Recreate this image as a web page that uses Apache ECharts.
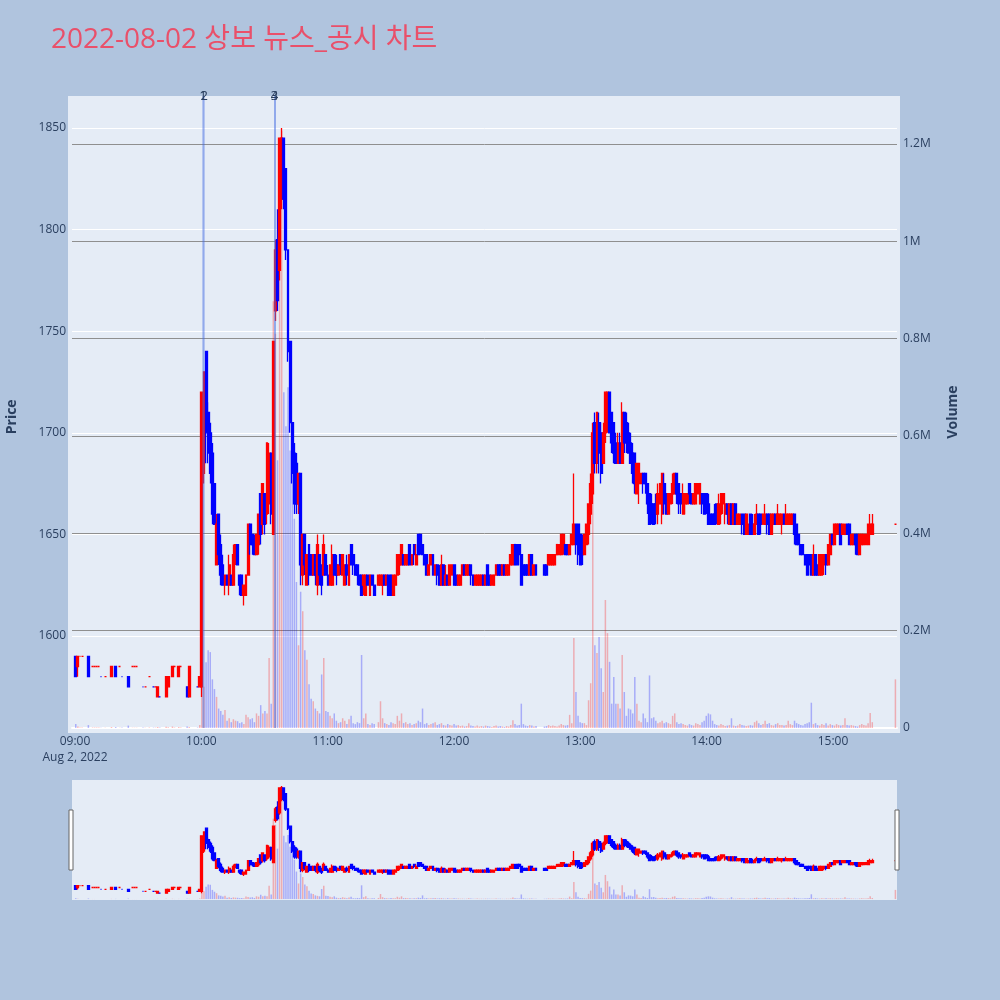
<!DOCTYPE html>
<html><head><meta charset="utf-8">
<script src="https://cdn.jsdelivr.net/npm/echarts@6/dist/echarts.min.js"></script>
<style>html,body{margin:0;padding:0;background:#b0c4de}#c{width:1000px;height:1000px}</style>
</head><body><div id="c"></div>
<script>
const times = [
'09:00','09:01','09:02','09:03','09:06','09:08','09:09','09:10','09:11','09:12','09:14','09:17','09:19','09:21','09:22','09:25','09:27','09:28','09:29','09:32','09:33','09:35','09:37','09:38','09:39','09:40','09:43','09:44','09:46','09:47','09:49','09:50','09:53','09:54','09:58','09:59',
'10:00','10:01','10:02','10:03','10:04','10:05','10:06','10:07','10:08','10:09','10:10','10:11','10:12','10:13','10:14','10:15','10:16','10:17','10:18','10:19','10:20','10:21','10:22','10:23','10:24','10:25','10:26','10:27','10:28','10:29','10:30','10:31','10:32','10:33','10:34','10:35','10:36','10:37','10:38','10:39','10:40','10:41','10:42','10:43','10:44','10:45','10:46','10:47','10:48','10:49','10:50','10:51','10:52','10:53','10:54','10:55','10:56','10:57','10:58','10:59',
'11:00','11:01','11:02','11:03','11:04','11:05','11:06','11:07','11:08','11:09','11:10','11:11','11:12','11:13','11:14','11:15','11:16','11:17','11:18','11:19','11:20','11:21','11:22','11:24','11:25','11:26','11:27','11:28','11:29','11:30','11:31','11:32','11:33','11:34','11:35','11:36','11:37','11:38','11:39','11:40','11:41','11:42','11:43','11:44','11:45','11:46','11:47','11:48','11:49','11:50','11:51','11:52','11:53','11:54','11:55','11:56','11:57','11:58','11:59',
'12:00','12:01','12:02','12:03','12:04','12:05','12:06','12:07','12:08','12:09','12:10','12:11','12:12','12:13','12:14','12:15','12:16','12:17','12:18','12:19','12:20','12:21','12:22','12:23','12:24','12:25','12:26','12:27','12:28','12:29','12:30','12:31','12:32','12:33','12:34','12:35','12:36','12:37','12:38','12:39','12:43','12:44','12:45','12:46','12:47','12:48','12:49','12:50','12:51','12:52','12:53','12:54','12:55','12:56','12:57','12:58','12:59',
'13:00','13:01','13:02','13:03','13:04','13:05','13:06','13:07','13:08','13:09','13:10','13:11','13:12','13:13','13:14','13:15','13:16','13:17','13:18','13:19','13:20','13:21','13:22','13:23','13:24','13:25','13:26','13:27','13:28','13:29','13:30','13:31','13:32','13:33','13:34','13:35','13:36','13:37','13:38','13:39','13:40','13:41','13:42','13:43','13:44','13:45','13:46','13:47','13:48','13:49','13:50','13:51','13:52','13:53','13:54','13:55','13:56','13:57','13:58','13:59',
'14:00','14:01','14:02','14:03','14:04','14:05','14:06','14:07','14:08','14:09','14:10','14:11','14:12','14:13','14:14','14:15','14:16','14:17','14:18','14:19','14:20','14:21','14:22','14:23','14:24','14:25','14:26','14:27','14:28','14:29','14:30','14:31','14:32','14:33','14:34','14:35','14:36','14:37','14:38','14:39','14:40','14:41','14:42','14:43','14:44','14:45','14:46','14:47','14:48','14:49','14:50','14:51','14:52','14:53','14:54','14:55','14:56','14:57','14:58','14:59',
'15:00','15:01','15:02','15:03','15:04','15:05','15:06','15:07','15:08','15:09','15:10','15:11','15:12','15:13','15:14','15:15','15:16','15:17','15:18','15:19','15:30'
];
const opens = [
1590,1585,1590,1590,1590,1585,1585,1585,1585,1580,1580,1580,1585,1585,1580,1580,1585,1585,1585,1575,1575,1580,1575,1575,1570,1570,1570,1575,1580,1585,1580,1585,1575,1570,1575,1575,
1575,1680,1740,1710,1700,1690,1675,1635,1660,1645, 1635,1625,1630,1625,1630,1625,1640,1645,1630,1630,
1620,1620,1630,1655,1650,1645,1640,1645,1670,1655, 1670,1660,1665,1690,1650,1760,1795,1780,1815,1845,
1830,1790,1745,1705,1690,1685,1665,1680,1630,1650, 1625,1645,1640,1630,1640,1625,1640,1635,1630,1640,
1630,1625,1625,1640,1635,1630,1640,1630,1625,1635, 1625,1645,1640,1635,1635,1630,1630,1625,1620,1630,
1620,1630,1625, 1625,1625,1625,1630,1625,1630,1630, 1620,1625,1630,1635,1635,1640,1635,1635,1645,
1635,1645,1635,1650,1650,1645,1640,1640,1630,1635, 1640,1630,1635,1630,1625,1635,1625,1630,1625,1630,
1635,1630,1625,1625,1630,1635,1630,1630,1635,1630, 1625,1625,1625,1625,1630,1625,1635,1630,1625,1625,
1630,1635,1635,1630,1635,1630,1630,1635,1635,1645, 1645,1645,1640,1635,1635,1635,1630,1640,1630,1635,
1635,1635,1635,1635,1635,1635,1640, 1640,1640,1645,1645,1645,1640,1645,1645,1655,1655,
1650,1645,1640,1645,1650,1660,1670,1705,1685,1705, 1700,1685,1700,1705,1720,1710,1705,1695,1685,1695,
1685,1710,1705,1700,1695,1690,1690,1670,1675,1675, 1680,1680,1675,1670,1665,1665,1665,1660,1665,1660,
1675,1670,1660,1665,1670,1670,1680,1675,1670,1660, 1665,1665,1675,1670,1665,1665,1670,1665,1670,1670,
1670,1665,1660,1660,1660,1665,1655,1660,1665,1660, 1665,1655,1665,1655,1665,1655,1655,1660,1660,1650,
1650,1660,1655,1650,1655,1660,1660,1655,1655,1660, 1660,1650,1655,1660,1655,1655,1655,1660,1655,1655,
1655,1655,1660,1655,1650,1645,1645,1640,1640,1640, 1640,1630,1640,1635,1630,1630,1635,1640,1635,1640,
1650,1645,1650,1650,1655,1650,1650,1655,1655,1645, 1645,1650,1650,1640,1645,1645,1645,1645,1650,1650, 1655
];
const closes = [
1580,1590,1590,1590,1580,1585,1585,1585,1585,1580,1580,1585,1580,1585,1580,1575,1585,1585,1585,1575,1575,1580,1575,1575,1575,1570,1580,1580,1585,1585,1585,1585,1570,1585,1575,1580,
1720,1730,1700,1690,1680,1660,1655,1655,1640,1630, 1625,1630,1625,1635,1625,1640,1645,1635,1625,1620,
1625,1630,1655,1645,1645,1640,1650,1660,1650,1675, 1655,1695,1690,1660,1745,1790,1765,1845,1845,1815,
1790,1740,1705,1680,1665,1665,1680,1635,1650,1635, 1640,1630,1630,1640,1630,1645,1630,1625,1645,1630,
1625,1635,1640,1630,1630,1635,1635,1640,1635,1630, 1640,1635,1635,1630,1630,1625,1620,1630,1630,1625,
1630,1625,1620, 1630,1630,1630,1625,1630,1620,1620, 1630,1630,1640,1640,1645,1635,1640,1640,1635,
1640,1640,1640,1640,1645,1640,1635,1630,1635,1640, 1630,1635,1630,1625,1635,1625,1630,1625,1635,1635,
1625,1625,1630,1630,1635,1630,1635,1635,1630,1625, 1630,1630,1630,1630,1625,1630,1625,1625,1630,1630,
1635,1630,1630,1635,1630,1635,1635,1640,1645,1635, 1635,1640,1625,1630,1630,1630,1640,1630,1635,1630,
1630,1630,1640,1640,1640,1640,1645, 1645,1650,1650,1640,1640,1645,1650,1655,1645,1640,
1635,1640,1650,1655,1665,1675,1700,1685,1710,1690, 1680,1700,1720,1720,1700,1695,1690,1685,1695,1685,
1710,1695,1695,1690,1685,1680,1675,1685,1685,1680, 1675,1675,1665,1655,1660,1655,1660,1670,1675,1680,
1665,1660,1670,1670,1675,1680,1670,1665,1665,1670, 1670,1670,1670,1665,1670,1675,1675,1675,1665,1660,
1665,1655,1655,1655,1655,1660,1665,1670,1670,1665, 1660,1665,1655,1665,1655,1660,1660,1655,1650,1660,
1655,1650,1650,1655,1660,1650,1655,1660,1660,1655, 1650,1660,1660,1655,1660,1660,1660,1655,1660,1660,
1660,1660,1650,1645,1645,1640,1640,1635,1630,1635, 1630,1640,1630,1630,1640,1640,1640,1635,1645,1650,
1645,1655,1655,1655,1645,1655,1655,1650,1645,1650, 1650,1645,1640,1650,1650,1650,1650,1655,1655,1655, 1655
];
const lows = [
1580,1580,1590,1590,1580,1585,1585,1585,1585,1580,1580,1580,1580,1585,1580,1575,1585,1585,1585,1575,1575,1580,1575,1575,1570,1570,1570,1575,1580,1585,1580,1585,1570,1570,1575,1575,
1570,1675,1685,1685,1675,1655,1655,1635,1635,1625, 1625,1620,1625,1620,1625,1625,1635,1635,1620,1620,
1615,1620,1630,1640,1640,1640,1640,1640,1645,1650, 1650,1655,1660,1655,1650,1755,1760,1775,1810,1810,
1785,1735,1700,1675,1660,1660,1660,1625,1625,1630, 1625,1625,1630,1630,1625,1620,1625,1620,1630,1630,
1625,1625,1625,1630,1625,1630,1630,1630,1625,1625, 1625,1635,1630,1630,1625,1625,1620,1620,1620,1625,
1620,1625,1620, 1625,1625,1620,1625,1625,1620,1620, 1620,1625,1630,1630,1635,1635,1635,1635,1635,
1635,1635,1635,1640,1640,1640,1635,1630,1630,1635, 1630,1630,1625,1625,1625,1625,1625,1625,1625,1630,
1625,1625,1625,1625,1630,1630,1630,1630,1625,1625, 1625,1625,1625,1625,1625,1625,1625,1625,1625,1625,
1630,1630,1630,1630,1630,1630,1630,1635,1635,1635, 1635,1635,1625,1630,1630,1630,1630,1630,1630,1630,
1630,1630,1635,1635,1635,1635,1640, 1640,1640,1640,1640,1640,1640,1645,1645,1640,1635,
1635,1635,1640,1645,1645,1655,1665,1680,1680,1680, 1675,1685,1695,1700,1700,1690,1685,1685,1685,1685,
1685,1690,1690,1690,1685,1675,1670,1670,1665,1675, 1670,1670,1660,1655,1655,1655,1655,1655,1665,1655,
1660,1660,1660,1665,1665,1670,1665,1660,1660,1660, 1660,1665,1665,1665,1665,1665,1670,1665,1660,1660,
1660,1655,1655,1655,1655,1655,1655,1655,1660,1655, 1655,1655,1655,1655,1655,1655,1655,1650,1650,1650,
1650,1650,1650,1650,1655,1650,1650,1655,1655,1650, 1650,1650,1655,1655,1655,1655,1650,1655,1655,1655,
1655,1655,1645,1645,1645,1640,1640,1635,1630,1630, 1630,1630,1630,1630,1630,1630,1630,1630,1635,1640,
1645,1645,1650,1650,1645,1650,1650,1650,1645,1645, 1645,1640,1640,1640,1645,1645,1645,1645,1650,1650, 1655
];
const highs = [
1590,1590,1590,1590,1590,1585,1585,1585,1585,1580,1580,1585,1585,1585,1580,1580,1585,1585,1585,1575,1575,1580,1575,1575,1575,1570,1580,1580,1585,1585,1585,1585,1575,1585,1575,1580,
1720,1730,1740,1715,1705,1695,1675,1660,1660,1650, 1640,1630,1630,1640,1630,1645,1645,1645,1630,1630,
1625,1630,1655,1655,1650,1650,1650,1660,1670,1675, 1670,1695,1695,1690,1745,1795,1810,1845,1850,1845,
1830,1790,1745,1705,1695,1690,1680,1680,1650,1650, 1640,1645,1640,1640,1640,1650,1640,1635,1650,1640,
1635,1635,1645,1640,1640,1635,1640,1640,1635,1640, 1640,1645,1640,1635,1635,1630,1630,1630,1630,1630,
1630,1630,1625, 1630,1630,1630,1630,1630,1630,1630, 1630,1630,1640,1640,1645,1640,1640,1640,1645,
1640,1645,1645,1650,1650,1645,1640,1640,1635,1640, 1640,1635,1635,1635,1640,1635,1635,1630,1635,1635,
1635,1630,1630,1630,1635,1635,1635,1635,1635,1630, 1630,1630,1630,1630,1630,1630,1635,1630,1630,1630,
1635,1635,1635,1635,1635,1635,1635,1640,1645,1645, 1645,1645,1640,1635,1635,1635,1640,1640,1635,1635,
1635,1635,1640,1640,1640,1640,1645, 1645,1650,1650,1645,1645,1645,1650,1680,1655,1655,
1650,1650,1650,1655,1665,1680,1705,1710,1710,1710, 1705,1705,1720,1720,1720,1710,1705,1700,1700,1700,
1715,1710,1710,1705,1700,1695,1690,1685,1685,1680, 1680,1680,1675,1670,1670,1665,1670,1675,1675,1680,
1680,1670,1670,1670,1680,1680,1680,1675,1670,1675, 1670,1670,1675,1670,1670,1675,1675,1675,1670,1670,
1670,1670,1660,1660,1665,1665,1670,1670,1670,1665, 1665,1665,1665,1665,1665,1660,1660,1660,1660,1660,
1655,1660,1660,1660,1665,1660,1660,1660,1665,1660, 1660,1660,1660,1660,1665,1660,1660,1660,1665,1660,
1660,1660,1660,1655,1650,1645,1645,1640,1640,1640, 1640,1645,1640,1635,1640,1640,1640,1640,1645,1650,
1650,1655,1655,1655,1655,1655,1655,1655,1655,1650, 1650,1650,1650,1650,1650,1650,1650,1655,1660,1660, 1655
];
const volumes = [
8000,3000,1000,1000,6000,1000,1000,1000,1000,500,500,2000,2000,500,1000,5000,500,500,500,1000,500,1000,800,800,2000,1000,2500,1500,3000,1000,2000,1000,3000,2000,1000,6000,
100000,85000,135000,160000,156000,100000,80000,64000,40000,35000, 27000,37000,15000,20000,12000,18000,15000,14000,10000,12000,
8000,27000,22000,18000,20000,12000,30000,25000,47000,30000, 35000,30000,144000,50000,877000,810000,550000,1130000,1227000,690000,
620000,700000,570000,610000,430000,300000,170000,280000,240000,160000, 140000,90000,60000,55000,40000,35000,30000,110000,144000,35000,
33000,25000,20000,30000,15000,10000,12000,20000,15000,8000, 18000,25000,10000,8000,12000,10000,150000,20000,30000,8000,
6000,10000,8000, 12000,55000,20000,10000,8000,6000,12000, 10000,8000,25000,15000,30000,10000,12000,8000,10000,
6000,8000,10000,15000,12000,40000,8000,10000,6000,8000, 10000,12000,6000,8000,10000,6000,5000,8000,6000,5000,
8000,5000,6000,4000,5000,3000,4000,10000,5000,4000, 3000,5000,3000,4000,3000,5000,4000,3000,2000,4000,
5000,3000,4000,3000,2000,4000,3000,6000,16000,8000, 5000,6000,50000,8000,5000,4000,6000,5000,3000,4000,
3000,4000,6000,4000,5000,4000,3000, 5000,8000,6000,5000,6000,27000,10000,185000,74000,25000,
12000,10000,10000,6000,57000,92000,500000,170000,154000,187000, 123000,74000,263000,195000,136000,50000,105000,50000,50000,40000,
150000,74000,25000,40000,38000,30000,105000,50000,15000,12000, 30000,20000,12000,108000,20000,22000,15000,10000,12000,15000,
10000,12000,10000,8000,25000,30000,12000,8000,10000,8000, 6000,5000,8000,6000,5000,10000,8000,6000,12000,15000,
25000,30000,28000,15000,8000,6000,5000,8000,6000,4000, 5000,6000,20000,5000,4000,5000,8000,6000,5000,4000,
5000,6000,5000,12000,15000,10000,6000,8000,15000,8000, 10000,6000,5000,8000,10000,6000,6000,5000,6000,15000,
8000,6000,15000,10000,8000,6000,5000,8000,10000,12000, 52000,8000,10000,6000,5000,8000,6000,10000,5000,8000,
6000,5000,8000,6000,5000,6000,20000,6000,5000,6000, 5000,4000,3000,6000,8000,6000,5000,10000,31000,12000, 100000
];
const newsTimes = ['10:00:35', '10:01:05', '10:34:30', '10:34:30'];
const newsLabels = ['1', '2', '3', '4'];
const hourLabels = ['09:00', '10:00', '11:00', '12:00', '13:00', '14:00', '15:00'];
const dateLabel = 'Aug 2, 2022';
const titleText = '2022-08-02 상보 뉴스_공시 차트';

function ts(s) { const p = s.split(':').map(Number); return new Date(2022, 7, 2, p[0], p[1], p[2] || 0).getTime(); }
const xMin = ts('08:58:34'), xMax = ts('15:30:24');
const VOL_MAX = 1298630;
const UP = '#ff0000', DOWN = '#0000ff';
const candles = times.map((t, i) => [ts(t), opens[i], closes[i], lows[i], highs[i]]);
function isUp(i) {
  if (closes[i] > opens[i]) return true;
  if (closes[i] < opens[i]) return false;
  return i > 0 ? closes[i - 1] <= closes[i] : true;
}
const volData = times.map((t, i) => ({ value: [ts(t), volumes[i]], itemStyle: { color: isUp(i) ? 'rgba(255,0,0,0.27)' : 'rgba(0,0,255,0.27)' } }));
const FONT = 'Open Sans';
const TXT = '#2a3f5f';
const candleStyle = { color: UP, color0: DOWN, borderColor: UP, borderColor0: DOWN, borderWidth: 1.3 };

const chart = echarts.init(document.getElementById('c'), null, { renderer: 'canvas' });
chart.setOption({
  animation: false,
  backgroundColor: '#b0c4de',
  title: { text: titleText, left: 46, top: 21, textStyle: { color: '#e9506a', fontSize: 28, fontWeight: 'normal', fontFamily: "'Open Sans', 'Noto Sans CJK KR', sans-serif" } },
  graphic: [
    { type: 'rect', z: -10, shape: { x: 68, y: 96, width: 832, height: 637 }, style: { fill: '#e5ecf6' } },
    { type: 'rect', z: 100, shape: { x: 69, y: 810, width: 4, height: 60 }, style: { fill: '#ffffff', stroke: '#666', lineWidth: 1 } },
    { type: 'rect', z: 100, shape: { x: 895, y: 810, width: 4, height: 60 }, style: { fill: '#ffffff', stroke: '#666', lineWidth: 1 } }
  ],
  grid: [
    { left: 72, width: 825, top: 96, height: 641.6, show: false, containLabel: false, outerBoundsMode: 'none' },
    { left: 72, width: 825, top: 96, height: 632, show: false, containLabel: false, outerBoundsMode: 'none' },
    { left: 72, width: 825, top: 780, height: 120, show: true, backgroundColor: '#e5ecf6', borderWidth: 0, containLabel: false, outerBoundsMode: 'none' }
  ],
  xAxis: [
    { type: 'time', gridIndex: 0, min: xMin, max: xMax, show: false },
    { type: 'time', gridIndex: 1, min: xMin, max: xMax, minInterval: 3600000, maxInterval: 3600000,
      axisLine: { show: true, lineStyle: { color: '#ffffff', width: 2 } }, axisTick: { show: false }, splitLine: { show: false },
      axisLabel: { margin: 6, color: TXT, fontSize: 12, fontFamily: FONT, lineHeight: 16, hideOverlap: false,
        formatter: function (v) { const d = new Date(v); if (d.getMinutes() !== 0 || d.getSeconds() !== 0) return '';
          const s = (d.getHours() < 10 ? '0' : '') + d.getHours() + ':00'; if (hourLabels.indexOf(s) < 0) return '';
          return s === hourLabels[0] ? s + '\n' + dateLabel : s; } } },
    { type: 'time', gridIndex: 2, min: xMin, max: xMax, show: false }
  ],
  yAxis: [
    { type: 'value', gridIndex: 0, min: 1550, max: 1865.75, interval: 50, position: 'left',
      axisLine: { show: false }, axisTick: { show: false },
      axisLabel: { color: TXT, fontSize: 12, fontFamily: FONT, margin: 6, showMinLabel: false, showMaxLabel: false,
        formatter: function (v) { return String(v); } },
      splitLine: { show: true, showMinLine: false, showMaxLine: false, lineStyle: { color: '#ffffff', width: 1 } },
      name: 'Price', nameLocation: 'middle', nameRotate: 90, nameGap: 53, nameTextStyle: { color: TXT, fontSize: 14, fontWeight: 'bold', fontFamily: FONT } },
    { type: 'value', gridIndex: 0, min: -19710, max: VOL_MAX, show: false, splitLine: { show: false } },
    { type: 'value', gridIndex: 1, min: 0, max: VOL_MAX, interval: 200000, position: 'right',
      axisLine: { show: false }, axisTick: { show: false },
      axisLabel: { color: TXT, fontSize: 12, fontFamily: FONT, margin: 6, showMaxLabel: false,
        formatter: function (v) { return v === 0 ? '0' : (v / 1e6) + 'M'; } },
      splitLine: { show: true, showMinLine: false, showMaxLine: false, lineStyle: { color: '#8f8f8f', width: 1 } },
      name: 'Volume', nameLocation: 'middle', nameRotate: 90, nameGap: 49, nameTextStyle: { color: TXT, fontSize: 14, fontWeight: 'bold', fontFamily: FONT } },
    { type: 'value', gridIndex: 2, min: 1552.3, max: 1865.7, show: false, splitLine: { show: false } },
    { type: 'value', gridIndex: 2, min: -10300, max: 1298600, show: false, splitLine: { show: false } }
  ],
  series: [
    { type: 'candlestick', xAxisIndex: 0, yAxisIndex: 0, data: candles, encode: { x: 0, y: [1, 2, 3, 4] }, barWidth: 2.4, itemStyle: candleStyle, z: 2 },
    { type: 'bar', xAxisIndex: 0, yAxisIndex: 1, data: volData, barWidth: 1.5, z: 3,
      markLine: { silent: true, symbol: ['none', 'none'], animation: false,
        lineStyle: { color: 'rgba(65,105,225,0.3)', width: 2, type: 'solid' },
        label: { show: true, position: 'end', distance: -7, color: TXT, fontSize: 13, fontFamily: FONT },
        data: newsTimes.map((t, i) => [{ xAxis: ts(t), yAxis: 0, label: { formatter: newsLabels[i] } }, { xAxis: ts(t), yAxis: VOL_MAX }]) } },
    { type: 'candlestick', xAxisIndex: 2, yAxisIndex: 3, data: candles, encode: { x: 0, y: [1, 2, 3, 4] }, barWidth: 2.4, itemStyle: candleStyle, z: 2 },
    { type: 'bar', xAxisIndex: 2, yAxisIndex: 4, data: volData, barWidth: 1.5, z: 3 }
  ]
});
</script></body></html>
